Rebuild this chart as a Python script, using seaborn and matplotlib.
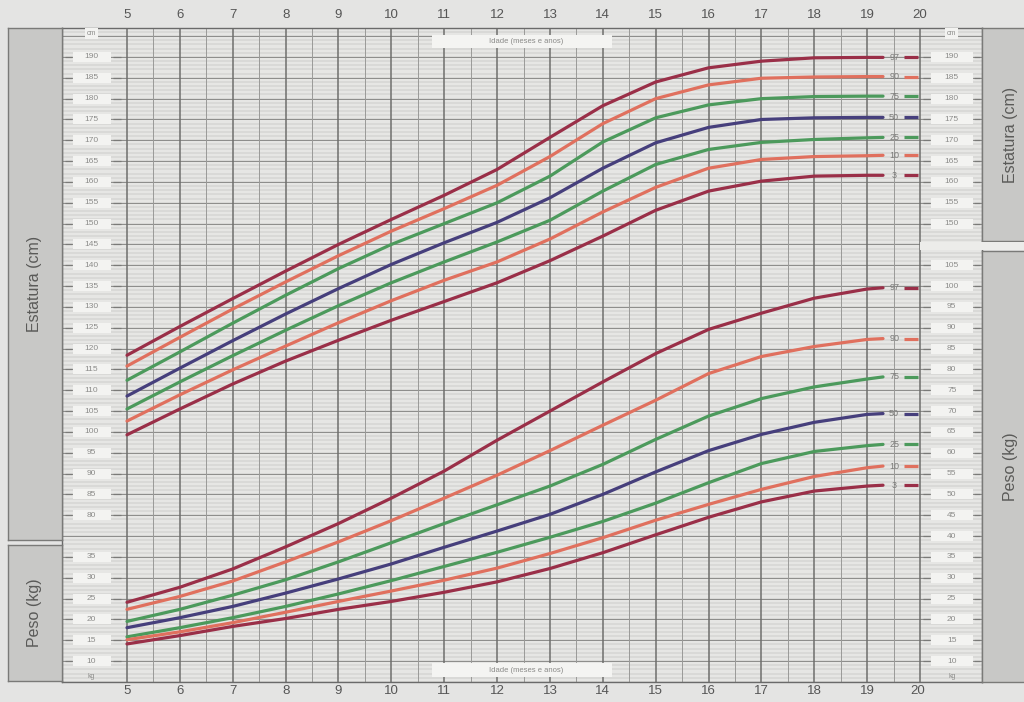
import matplotlib
matplotlib.use("Agg")
import matplotlib.pyplot as plt
import matplotlib.transforms as mtransforms
from matplotlib.patches import Rectangle
import seaborn as sns
import pandas as pd
import numpy as np

# idades (anos) onde as curvas foram lidas
idades = [5, 6, 7, 8, 9, 10, 11, 12, 13, 14, 15, 16, 17, 18, 19, 19.3]
percentis = ["97", "90", "75", "50", "25", "10", "3"]

# estatura (cm)
est_p97 = [118.4, 125.3, 132.0, 138.6, 145.0, 151.0, 156.8, 163.0, 170.7, 178.3, 184.0, 187.4, 189.0, 189.8, 189.9, 189.9]
est_p90 = [115.8, 122.7, 129.5, 136.0, 142.3, 148.2, 153.6, 159.2, 166.1, 174.0, 180.0, 183.3, 184.9, 185.2, 185.3, 185.3]
est_p75 = [112.4, 119.2, 126.1, 132.8, 139.2, 145.0, 150.0, 155.0, 161.4, 169.6, 175.4, 178.5, 180.0, 180.5, 180.6, 180.6]
est_p50 = [108.6, 115.3, 121.9, 128.3, 134.4, 140.2, 145.4, 150.3, 156.2, 163.3, 169.4, 173.1, 175.0, 175.4, 175.5, 175.5]
est_p25 = [105.5, 112.0, 118.3, 124.4, 130.3, 135.8, 140.8, 145.6, 150.8, 157.8, 164.2, 167.8, 169.5, 170.2, 170.6, 170.7]
est_p10 = [102.6, 108.9, 114.9, 120.6, 126.2, 131.5, 136.4, 140.8, 146.3, 152.8, 158.7, 163.3, 165.4, 166.1, 166.3, 166.4]
est_p3 = [99.3, 105.5, 111.5, 117.0, 122.0, 126.8, 131.3, 135.8, 141.1, 147.0, 153.2, 157.8, 160.2, 161.4, 161.6, 161.6]

# peso (kg)
pes_p97 = [24.1, 27.7, 32.1, 37.4, 43.0, 49.1, 55.6, 63.0, 70.0, 77.0, 83.8, 89.6, 93.5, 97.1, 99.3, 99.6]
pes_p90 = [22.4, 25.5, 29.2, 33.8, 38.6, 43.7, 49.1, 54.6, 60.5, 66.6, 72.6, 79.0, 83.1, 85.5, 87.2, 87.4]
pes_p75 = [19.5, 22.4, 25.8, 29.5, 33.8, 38.4, 43.0, 47.5, 52.0, 57.2, 63.2, 68.8, 73.0, 75.8, 77.7, 78.2]
pes_p50 = [18.0, 20.4, 23.1, 26.3, 29.7, 33.3, 37.3, 41.2, 45.2, 50.0, 55.4, 60.5, 64.4, 67.3, 69.2, 69.4]
pes_p25 = [15.8, 18.0, 20.4, 23.1, 26.1, 29.3, 32.7, 36.1, 39.7, 43.5, 47.9, 52.8, 57.4, 60.3, 61.7, 62.0]
pes_p10 = [15.1, 17.0, 19.2, 21.7, 24.3, 26.8, 29.4, 32.3, 35.8, 39.6, 43.8, 47.6, 51.2, 54.3, 56.4, 56.8]
pes_p3 = [14.1, 16.1, 18.3, 20.2, 22.4, 24.3, 26.5, 29.0, 32.2, 36.0, 40.3, 44.5, 48.2, 50.8, 52.0, 52.2]

# rótulos dos eixos
anos_ticks = list(range(5, 21))
est_ticks_esq = list(range(80, 191, 5))
pes_ticks_esq = list(range(10, 36, 5))
est_ticks_dir = list(range(150, 191, 5))
pes_ticks_dir = list(range(10, 106, 5))

cores = {"97": "#9a2f48", "90": "#e0705e", "75": "#4c9a5c", "50": "#463f7c",
         "25": "#4c9a5c", "10": "#e0705e", "3": "#9a2f48"}

est_series = dict(zip(percentis, [est_p97, est_p90, est_p75, est_p50, est_p25, est_p10, est_p3]))
pes_series = dict(zip(percentis, [pes_p97, pes_p90, pes_p75, pes_p50, pes_p25, pes_p10, pes_p3]))

df_est = pd.concat([pd.DataFrame({"idade": idades, "valor": v, "percentil": p})
                    for p, v in est_series.items()], ignore_index=True)
df_pes = pd.concat([pd.DataFrame({"idade": idades, "valor": v, "percentil": p})
                    for p, v in pes_series.items()], ignore_index=True)

sns.set_style("white")
plt.rcParams["font.family"] = ["Liberation Sans", "DejaVu Sans"]

W, H = 1024, 702
fig = plt.figure(figsize=(W / 100, H / 100), dpi=100, facecolor="#e4e4e3")

def fx(px):
    return px / W

def fy(py):
    return 1 - py / H

# eixo principal (peso) de x=62 a 982 px, y=28 a 682 px
ax = fig.add_axes([fx(62), fy(682), fx(920), (682 - 28) / H])
ax.set_facecolor("#e6e6e4")
x0, x1 = 3.771, 21.172
w0, w1 = 4.96, 161.96
ax.set_xlim(x0, x1)
ax.set_ylim(w0, w1)
ax.set_xticks([])
ax.set_yticks([])
for s in ax.spines.values():
    s.set_color("#6a6a6a")
    s.set_linewidth(1.0)

# eixo da estatura (cm) = peso + 35
ax_h = ax.twinx()
ax_h.set_ylim(w0 + 35, w1 + 35)
ax_h.set_yticks([])
ax_h.set_xlim(x0, x1)
for s in ax_h.spines.values():
    s.set_visible(False)

# grade milimetrada
ax.hlines(np.arange(5, 162, 1), x0, x1, color="#b4b4b2", lw=0.35, zorder=0)
ax.hlines(np.arange(5, 162, 5), x0, x1, color="#8c8c8a", lw=0.7, zorder=0)
ax.vlines(np.arange(5.5, 20, 1), w0, w1, color="#9a9a98", lw=0.7, zorder=0)
ax.vlines(np.arange(5, 20.5, 1), w0, w1, color="#6e6e6c", lw=1.1, zorder=0)

# curvas
sns.lineplot(data=df_est, x="idade", y="valor", hue="percentil", hue_order=percentis,
             palette=cores, estimator=None, sort=False, lw=2.3, legend=False, ax=ax_h)
sns.lineplot(data=df_pes, x="idade", y="valor", hue="percentil", hue_order=percentis,
             palette=cores, estimator=None, sort=False, lw=2.3, legend=False, ax=ax)
for line in ax.lines + ax_h.lines:
    line.set_solid_joinstyle("round")
ax.set_xlabel("")
ax.set_ylabel("")
ax_h.set_xlabel("")
ax_h.set_ylabel("")
ax.set_xlim(x0, x1)
ax_h.set_xlim(x0, x1)

# rótulos dos percentis no final das curvas
for eixo, series in ((ax_h, est_series), (ax, pes_series)):
    for p, v in series.items():
        eixo.text(19.51, v[-1], p, fontsize=6.5, color="#7a7a78", ha="center", va="center")
        eixo.hlines(v[-1], 19.70, 19.97, color=cores[p], lw=2.3)

# colunas de rótulos
def rotulos(eixo, valores, xc, largura, dx1, dx2):
    for v in valores:
        eixo.add_patch(Rectangle((xc - largura / 2, v - 1.2), largura, 2.4,
                                 facecolor="#f3f3f1", edgecolor="none", zorder=2))
        eixo.text(xc, v, str(v), fontsize=6, color="#8c8c8a", ha="center", va="center", zorder=3)
        eixo.hlines(v, dx1[0], dx1[1], color="#7a7a78", lw=0.9, zorder=2)
        eixo.hlines(v, dx2[0], dx2[1], color="#7a7a78", lw=0.9, zorder=2)

rotulos(ax_h, est_ticks_esq, 4.33, 0.72, (3.83, 3.96), (4.74, 4.88))
rotulos(ax, pes_ticks_esq, 4.33, 0.72, (3.83, 3.96), (4.74, 4.88))
rotulos(ax_h, est_ticks_dir, 20.6, 0.8, (20.06, 20.18), (21.02, 21.14))
rotulos(ax, pes_ticks_dir, 20.6, 0.8, (20.06, 20.18), (21.02, 21.14))

ax_h.text(4.33, 195.6, "cm", fontsize=5, color="#8c8c8a", ha="center", va="center",
          bbox=dict(boxstyle="square,pad=0.25", fc="#f3f3f1", ec="none"))
ax_h.text(20.6, 195.6, "cm", fontsize=5, color="#8c8c8a", ha="center", va="center",
          bbox=dict(boxstyle="square,pad=0.25", fc="#f3f3f1", ec="none"))
ax.text(4.33, 6.2, "kg", fontsize=5, color="#8c8c8a", ha="center", va="center")
ax.text(20.6, 6.2, "kg", fontsize=5, color="#8c8c8a", ha="center", va="center")

# anos acima e abaixo
trans = mtransforms.blended_transform_factory(ax.transData, ax.transAxes)
for a in anos_ticks:
    ax.text(a, 1.02, str(a), transform=trans, fontsize=9.5, color="#555555",
            ha="center", va="center")
    ax.text(a - 0.05 * (a == 20), -0.014, str(a), transform=trans, fontsize=9.5,
            color="#555555", ha="center", va="center")

# caixas "Idade (meses e anos)"
for ya, yb in ((0.9694, 0.9893), (0.0076, 0.029)):
    ax.add_patch(Rectangle((10.77, ya), 3.4, yb - ya, transform=trans,
                           facecolor="#f4f4f2", edgecolor="none", zorder=4))
    ax.text(12.55, (ya + yb) / 2, "Idade (meses e anos)", transform=trans, fontsize=5.5,
            color="#8a8a88", ha="center", va="center", zorder=5)

# painéis cinza laterais
def painel(x, y0, y1, texto, tx=0.5):
    pa = fig.add_axes([fx(x[0]), fy(y1), fx(x[1] - x[0]), (y1 - y0) / H])
    pa.set_facecolor("#c8c8c6")
    pa.set_xticks([])
    pa.set_yticks([])
    for s in pa.spines.values():
        s.set_color("#7a7a78")
        s.set_linewidth(1.0)
    pa.text(tx, 0.5, texto, rotation=90, fontsize=11.5, color="#5a5a58",
            ha="center", va="center", transform=pa.transAxes)

painel((8, 62), 28, 540, "Estatura (cm)")
painel((8, 62), 545, 681, "Peso (kg)")
painel((982, 1040), 28, 241, "Estatura (cm)", tx=0.5)
painel((982, 1040), 251, 682, "Peso (kg)", tx=0.5)

# faixa clara entre estatura e peso à direita
fig.add_artist(Rectangle((fx(920), fy(250)), fx(110), 8 / H, transform=fig.transFigure,
                         facecolor="#ececea", edgecolor="none", zorder=10))

fig.savefig("out.png", dpi=100, facecolor=fig.get_facecolor())
